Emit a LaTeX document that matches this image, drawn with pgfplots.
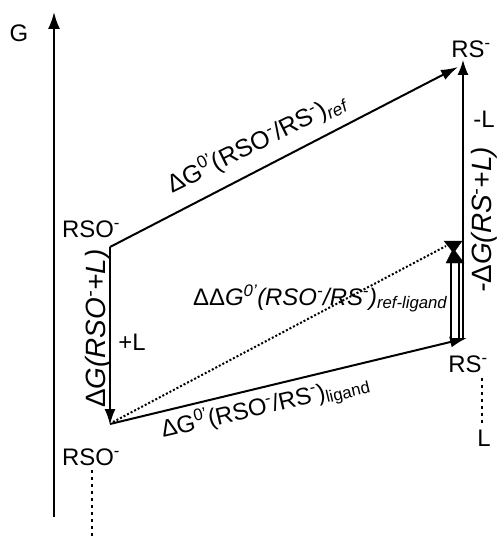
\documentclass[border=0pt]{standalone}
\usepackage{fontspec}
\setmainfont{Liberation Sans}
\usepackage{pgfplots}
\pgfplotsset{compat=1.18}
\usetikzlibrary{arrows.meta}
\tikzset{lbl/.style={font=\fontsize{24}{28}\selectfont, inner sep=0pt},
  vlbl/.style={font=\fontsize{28}{32}\selectfont\itshape, inner sep=0pt}}
\begin{document}
\begin{tikzpicture}
\useasboundingbox (0,0) rectangle (501bp,536bp);
\begin{axis}[
  at={(0,0)}, anchor=south west,
  scale only axis, width=501bp, height=536bp,
  xmin=0, xmax=501, ymin=0, ymax=536, y dir=reverse,
  hide axis, clip=false,
  every axis plot/.append style={no marks, black},
]
% G axis
\addplot[line width=2bp, -{Latex[length=17bp,width=12bp]}] coordinates {(54,517) (54,12)};
% top slanted arrow
\addplot[line width=2bp, -{Latex[length=17bp,width=11bp]}] coordinates {(110,247) (458,67)};
% right vertical thin arrow
\addplot[line width=1.4bp, -{Latex[length=15bp,width=11bp]}] coordinates {(463,338) (463,60)};
% left vertical arrow
\addplot[line width=2bp, -{Latex[length=16bp,width=11bp]}] coordinates {(110,247) (110,425)};
% bottom arrow
\addplot[line width=2bp, -{Latex[length=17bp,width=11bp]}] coordinates {(110,424) (467,338)};
% dotted line to the bow-tie head
\addplot[line width=2bp, dotted] coordinates {(113,422) (446,246)};
% double hollow arrow
\addplot[line width=2bp, double, double distance=6bp] coordinates {(455,338) (455,258)};
% bow-tie head
\addplot[fill=black, draw=black] coordinates {(444,241) (462,241) (455,251) (464,263) (446,263) (452,251) (444,241)} --cycle;
% dashed lower lines
\addplot[line width=2bp, dash pattern=on 3bp off 4bp] coordinates {(92,470) (92,536)};
\addplot[line width=2bp, dash pattern=on 3bp off 4bp] coordinates {(482,378) (482,424)};

% labels
\node[lbl] at (axis cs:19,33) {G};
\node[lbl] at (axis cs:91,229) {RSO\textsuperscript{-}};
\node[lbl] at (axis cs:471,49) {RS\textsuperscript{-}};
\node[lbl] at (axis cs:484,119) {-L};
\node[lbl] at (axis cs:132,342) {+L};
\node[lbl] at (axis cs:91,457) {RSO\textsuperscript{-}};
\node[lbl] at (axis cs:468,364) {RS\textsuperscript{-}};
\node[lbl] at (axis cs:484,438) {L};
\node[lbl, font=\fontsize{25}{29}\selectfont, anchor=base west, rotate=26.5] at (axis cs:172,194)
  {ΔG\textsuperscript{0’}(RSO\textsuperscript{-}/RS\textsuperscript{-})\textsubscript{\itshape ref}};
\node[lbl, anchor=base west, rotate=13.3] at (axis cs:163,438)
  {ΔG\textsuperscript{0’}(RSO\textsuperscript{-}/RS\textsuperscript{-})\textsubscript{ligand}};
\node[lbl, anchor=base west] at (axis cs:193,305)
  {ΔΔ\itshape G\textsuperscript{0’}(RSO\textsuperscript{-}/RS\textsuperscript{-})\textsubscript{ref-ligand}};
\node[vlbl, anchor=base west, rotate=90] at (axis cs:105,408)
  {{\upshape Δ}G(RSO\textsuperscript{-}+L)};
\node[vlbl, anchor=base west, rotate=90] at (axis cs:491,293)
  {-{\upshape Δ}G(RS\textsuperscript{-}+L)};
\end{axis}
\end{tikzpicture}
\end{document}
